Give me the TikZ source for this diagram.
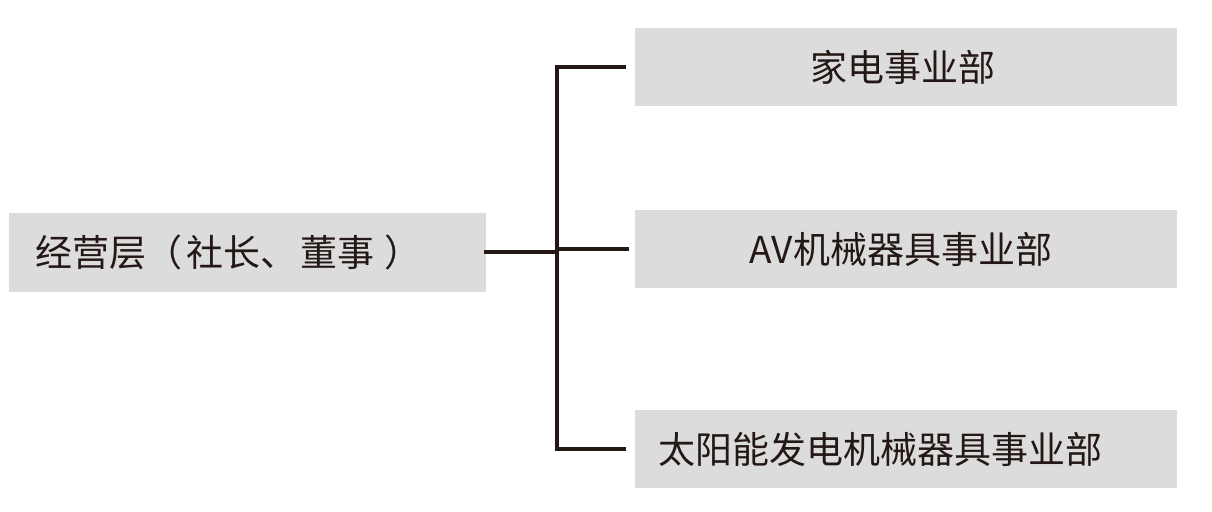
\documentclass[tikz,border=0pt]{standalone}
\usepackage{fontspec}
\newfontfamily\cjk{Noto Sans CJK SC}
\usetikzlibrary{positioning,calc}
\definecolor{boxgray}{RGB}{220,220,220}
\definecolor{inkdark}{RGB}{35,24,21}
\tikzset{
  unit/.style={fill=boxgray, inner xsep=11.5pt, inner ysep=0pt, minimum height=39pt,
    text width=248pt, text=inkdark, font=\cjk\fontsize{18.5}{22}\selectfont},
  link/.style={draw=inkdark, line width=2pt}
}
\begin{document}
\begin{tikzpicture}[x=0.5pt,y=-0.5pt]
  \useasboundingbox (0,0) rectangle (1212,512);
  % board on the left
  \node[unit, inner xsep=13pt, text width=212.5pt, minimum height=39.5pt, align=left] (board) at (247.5,252.5)
    {经营层（\hspace{2pt}社长、\hspace{1.5pt}董事\hspace{5pt}）};
  % divisions on the right
  \node[unit, align=center] (home) at (906,67.5) {家电事业部\hspace*{3pt}};
  \node[unit, align=center] (av) at (906,249.5) {AV机械器具事业部\hspace*{5pt}};
  \node[unit, align=left] (solar) at (906,449.5) {太阳能发电机械器具事业部};
  % tree lines
  \coordinate (trunk) at (557,250);
  \draw[link] ([xshift=-1pt]board.east) -- (board.east -| trunk);
  \draw[link] ([xshift=-4.5pt]home.west) -| (trunk) |- ([xshift=-4.5pt]solar.west);
  \draw[link] (trunk |- av.west) -- ([xshift=-3pt]av.west);
\end{tikzpicture}
\end{document}
